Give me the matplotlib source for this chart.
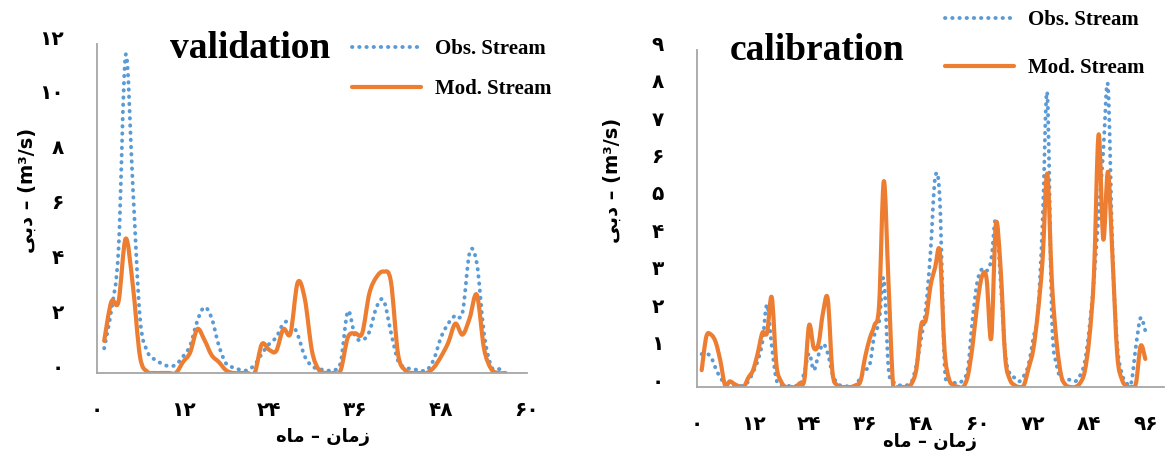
import numpy as np
import matplotlib
matplotlib.use("Agg")
import matplotlib.pyplot as plt
from matplotlib.lines import Line2D
from matplotlib.patches import PathPatch
from matplotlib.path import Path
from matplotlib.transforms import ScaledTranslation

# monthly series, validation period (months 1..57)
months_val = np.arange(1, 58)
obs_val = [0.9, 2.3, 4.5, 11.6, 6.8, 2.0, 0.8, 0.5, 0.35, 0.25,
           0.3, 0.6, 1.0, 1.9, 2.4, 2.0, 1.0, 0.35, 0.2, 0.12,
           0.1, 0.3, 0.7, 1.05, 1.3, 1.8, 1.85, 1.4, 0.6, 0.25,
           0.15, 0.1, 0.1, 0.4, 2.25, 1.35, 1.2, 1.5, 2.4, 2.65,
           1.5, 0.45, 0.2, 0.15, 0.1, 0.1, 0.5, 1.3, 1.8, 2.1,
           2.2, 4.4, 4.0, 1.45, 0.25, 0.15, 0.1]
mod_val = [1.17, 2.6, 2.6, 4.9, 3.2, 0.6, 0.05, 0, 0, 0,
           0, 0.4, 0.75, 1.6, 1.2, 0.65, 0.4, 0.1, 0, 0,
           0, 0, 1.05, 0.85, 0.8, 1.6, 1.45, 3.3, 2.7, 0.8,
           0.1, 0, 0, 0.1, 1.3, 1.45, 1.45, 2.9, 3.5, 3.7,
           3.35, 0.7, 0.1, 0, 0, 0, 0.2, 0.6, 1.1, 1.8,
           1.4, 2.0, 2.85, 0.9, 0.15, 0, 0]

# monthly series, calibration period (months 1..96)
months_cal = np.arange(1, 97)
obs_cal = [0.88, 0.9, 0.8, 0.5, 0.25, 0.1, 0.05, 0.03, 0.02, 0.05,
           0.15, 0.4, 0.7, 1.2, 2.2, 1.1, 0.2, 0.05, 0.03, 0.03,
           0.03, 0.05, 0.4, 0.9, 0.45, 0.85, 1.15, 0.9, 0.35, 0.1,
           0.03, 0.02, 0.02, 0.05, 0.25, 0.45, 0.6, 1.4, 1.75, 2.9,
           0.5, 0.15, 0.05, 0.05, 0.05, 0.15, 0.6, 1.3, 2.1, 3.6,
           5.6, 5.0, 0.6, 0.2, 0.12, 0.1, 0.2, 0.5, 1.8, 2.8,
           3.15, 3.1, 3.4, 4.5, 2.86, 0.9, 0.35, 0.25, 0.15, 0.3,
           0.6, 1.3, 2.0, 4.4, 7.85, 1.8, 0.6, 0.22, 0.2, 0.19,
           0.15, 0.3, 0.65, 1.55, 2.9, 4.6, 6.3, 8.05, 3.5, 1.1,
           0.35, 0.1, 0.12, 1.1, 1.85, 1.5]
mod_cal = [0.45, 1.35, 1.4, 1.2, 0.7, 0.05, 0.15, 0.08, 0.02, 0,
           0.25, 0.45, 0.9, 1.45, 1.45, 2.4, 0.6, 0.15, 0, 0,
           0, 0.1, 0.2, 1.65, 1.05, 1.15, 2.0, 2.35, 0.4, 0.05,
           0, 0, 0, 0.05, 0.15, 0.8, 1.3, 1.65, 2.2, 5.5,
           2.8, 0.05, 0, 0, 0, 0.1, 0.5, 1.65, 1.8, 2.7,
           3.2, 3.6, 1.0, 0.2, 0.05, 0, 0, 0.3, 1.1, 2.2,
           2.95, 2.9, 1.3, 4.35, 3.2, 0.8, 0.2, 0.05, 0, 0.05,
           0.5, 1.0, 2.0, 3.4, 5.7, 2.8, 1.2, 0.3, 0.05, 0,
           0, 0.1, 0.4, 1.3, 3.0, 6.75, 3.95, 5.75, 3.4, 0.85,
           0.2, 0.02, 0, 0.1, 1.1, 0.75]

val_xticks = [0, 12, 24, 36, 48, 60]
val_yticks = [0, 2, 4, 6, 8, 10, 12]
cal_xticks = [0, 12, 24, 36, 48, 60, 72, 84, 96]
cal_yticks = [0, 1, 2, 3, 4, 5, 6, 7, 8, 9]

series_names = ["Obs. Stream", "Mod. Stream"]

# pre-shaped Persian labels (visual order, presentation forms)
ylabel_txt = "\ufef0\ufe91\ufea9 \u2013 (m\u00b3/s)"      # دبی – (m³/s)
xlabel_txt = "\ufee9\ufe8e\ufee3 \u2013 \ufee5\ufe8e\ufee3\ufeaf"  # زمان – ماه

BLUE = "#5B9BD5"
ORANGE = "#ED7D31"
AXCOL = "#A6A6A6"
DOTS = (0, (0.1, 1.75))
OBS_LW = 2.8
MOD_LW = 3.0


def fa(n):
    return str(n).translate(str.maketrans("0123456789", "۰۱۲۳۴۵۶۷۸۹"))


def smooth_path(x, y):
    # excel-like smoothed line: catmull-rom segments as cubic beziers
    pts = np.column_stack([x, y]).astype(float)
    ext = np.vstack([pts[0], pts, pts[-1]])
    verts = [pts[0]]
    codes = [Path.MOVETO]
    for i in range(len(pts) - 1):
        p0, p1, p2, p3 = ext[i], ext[i + 1], ext[i + 2], ext[i + 3]
        verts += [p1 + (p2 - p0) / 6, p2 - (p3 - p1) / 6, p2]
        codes += [Path.CURVE4] * 3
    return Path(verts, codes)


def draw_series(ax, x, obs, mod):
    ax.add_patch(PathPatch(smooth_path(x, obs), facecolor="none", edgecolor=BLUE,
                           lw=OBS_LW, linestyle=DOTS, capstyle="round"))
    ax.add_patch(PathPatch(smooth_path(x, mod), facecolor="none", edgecolor=ORANGE,
                           lw=MOD_LW, capstyle="round", joinstyle="round"))


def legend_handles():
    return [Line2D([], [], color=BLUE, lw=OBS_LW, linestyle=DOTS,
                   dash_capstyle="round", label=series_names[0]),
            Line2D([], [], color=ORANGE, lw=MOD_LW, solid_capstyle="round",
                   label=series_names[1])]


def style_axes(ax, fig, xticks, yticks):
    for s in ("top", "right"):
        ax.spines[s].set_visible(False)
    for s in ("left", "bottom"):
        ax.spines[s].set_color(AXCOL)
        ax.spines[s].set_linewidth(1.3)
    ax.set_xticks(xticks, labels=[fa(t) for t in xticks])
    ax.set_yticks(yticks, labels=[fa(t) for t in yticks])
    ax.tick_params(length=0, labelsize=14.5)
    ax.tick_params(axis="x", pad=20)
    ax.tick_params(axis="y", pad=24)
    for lab in ax.get_xticklabels() + ax.get_yticklabels():
        lab.set_family(["DejaVu Sans"])
        lab.set_fontweight("bold")
    shift = ScaledTranslation(0, 7 / 100, fig.dpi_scale_trans)
    for lab in ax.get_yticklabels():
        lab.set_transform(lab.get_transform() + shift)


fig = plt.figure(figsize=(11.65, 4.54), dpi=100)

# ---- validation panel
ax1 = fig.add_axes([97 / 1165, 81 / 454, 430 / 1165, 329 / 454])
draw_series(ax1, months_val, obs_val, mod_val)
ax1.set_xlim(0, 60)
ax1.set_ylim(0, 12)
style_axes(ax1, fig, val_xticks, val_yticks)
ax1.text(0.356, 0.985, "validation", transform=ax1.transAxes, ha="center", va="center",
         family="Liberation Serif", fontweight="bold", fontsize=27)
ax1.text(-0.163, 0.556, ylabel_txt, transform=ax1.transAxes, rotation=90,
         ha="center", va="center", family=["DejaVu Sans"], fontweight="bold", fontsize=14)
ax1.text(0.526, -0.195, xlabel_txt, transform=ax1.transAxes, ha="center", va="center",
         family=["DejaVu Sans"], fontweight="bold", fontsize=13)
fig.legend(handles=legend_handles(), loc="upper left", bbox_to_anchor=(352 / 1165, 1 - 39 / 454),
           frameon=False, borderpad=0, borderaxespad=0, handlelength=3.3,
           handletextpad=0.7, labelspacing=0.95,
           prop=dict(family="Liberation Serif", weight="bold", size=15))

# ---- calibration panel
ax2 = fig.add_axes([697 / 1165, 67 / 454, 467 / 1165, 336.6 / 454])
draw_series(ax2, months_cal, obs_cal, mod_cal)
ax2.set_xlim(0, 100)
ax2.set_ylim(0, 9)
style_axes(ax2, fig, cal_xticks, cal_yticks)
ax2.text(0.257, 1.0, "calibration", transform=ax2.transAxes, ha="center", va="center",
         family="Liberation Serif", fontweight="bold", fontsize=27)
ax2.text(-0.182, 0.615, ylabel_txt, transform=ax2.transAxes, rotation=90,
         ha="center", va="center", family=["DejaVu Sans"], fontweight="bold", fontsize=14)
ax2.text(0.499, -0.163, xlabel_txt, transform=ax2.transAxes, ha="center", va="center",
         family=["DejaVu Sans"], fontweight="bold", fontsize=13)
fig.legend(handles=legend_handles(), loc="upper left", bbox_to_anchor=(945 / 1165, 1 - 10 / 454),
           frameon=False, borderpad=0, borderaxespad=0, handlelength=3.3,
           handletextpad=0.7, labelspacing=1.35,
           prop=dict(family="Liberation Serif", weight="bold", size=15))

fig.savefig("out.png", dpi=100)
